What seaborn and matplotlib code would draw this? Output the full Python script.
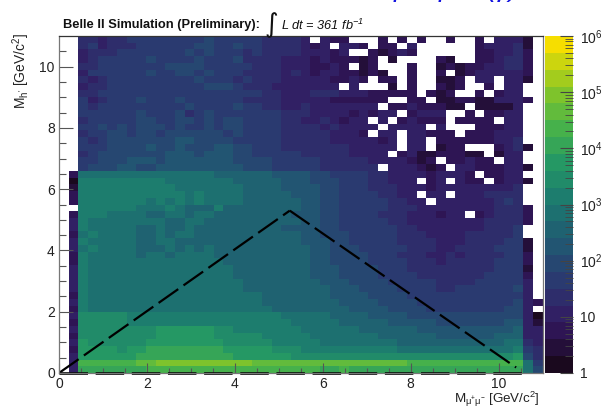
import numpy as np
import pandas as pd
import seaborn as sns
import matplotlib.pyplot as plt
from matplotlib.colors import LinearSegmentedColormap, ListedColormap, LogNorm
from matplotlib.ticker import NullFormatter

# 50 x 50 bins, top row first. One char per bin = colour level of the 20 step palette
# 0-9, a-j = level 0..19, '.' = empty bin
rows_top = [
    "..44344555 5555565555 544443.322 ...2.2.2.. 2..2.3331.",
    "..45344455 5555665565 54444323.3 32.22.3... ...233341.",
    "..34445555 5556565554 5444433323 ..21232... ...223342.",
    "..34555556 5555655564 4443332322 212.1....2 1..223442.",
    "..44555555 5666655555 4443332232 .12...2..1 212233442.",
    "..35555556 5566565554 4443432332 2121..2..2 .12333332.",
    "..43455555 5555655545 4443333322 32.22.2..1 12.33.331.",
    "..34455555 5555566654 443333333. 3...1.2..2 12..2.33..",
    "..44555555 5555555555 5443334443 3322222.21 2..2.233..",
    "..53455565 5565555554 4443333322 2222..22.1 122113332.",
    "..54555555 5556555565 5443343333 333.223222 11.11113..",
    "..55555565 5564565555 5554443333 23233.2333 ..2.2233..",
    "..45555566 5566565665 5554433432 33.3.23222 .2222.33..",
    "..55656566 6565565665 5554444343 333.3333.3 ...22233..",
    "..45566566 5666666565 5554444433 32.33.3322 2.222333..",
    "..54566666 6677666655 5554444433 33323.33.2 22222334..",
    "..55566667 6676667766 5554444444 33333.33.1 22...2341.",
    "..45666666 6777677766 5555544444 3333.23112 2211.133..",
    "..55666777 6777777766 6655555444 443333212. 22322.33..",
    "..56667766 7777777776 6655555444 444.333212 .33222331.",
]
rows_box = [
    ".299999999 9999998888 8877776655 5544333323 332.2233..",
    ".0aaaaaaaa a999999988 8887776665 5544333.23 .322.2331.",
    ".1aaaaaaaa aa99999998 8887777665 5544433323 33333334..",
    ".2aaaaaaaa aaa9a99998 8888777665 5554433.33 .3334444..",
    ".2aaaaaaa9 a9a9a99998 8888877665 55554433.3 33333454..",
    "..aaaaaa99 9a9888a888 8888877665 5555444333 333334442.",
    ".2aaa99998 8998998888 8888777665 5554443332 33.234442.",
    ".3a9999999 9889988888 8888877665 5555443333 333344442.",
    ".3a9999988 9889888888 8887777665 5555544333 33334445..",
    ".29a999988 9899888888 8888877666 5555544433 33444445..",
    ".3a9999988 9988888888 8888877766 5555544443 334444551.",
    ".39a999988 8989898888 8888887766 6555554443 344445551.",
    ".2a9999989 9899998888 8888887766 6655544433 434444552.",
    ".2a9999999 9999999888 8888887766 6655554443 444445552.",
    ".3a9999999 9999999988 8888887776 6665554444 444445551.",
    ".3a9999999 9999999988 8888887776 6665555444 444455552.",
    ".3a9999999 9999999998 8888888777 6666555554 444555553.",
    ".3a9999999 9999999998 8888888877 7666655554 455555563.",
    ".2a9999999 9999999999 9888888877 7766665555 555555553.",
    ".3a9999999 9999999999 9888888887 7776666555 5555555632",
    ".2a9999999 9999999999 9988888888 7777666655 555555663.",
]
rows_bottom = [
    ".3bbbbbaaa aaaaaaaaaa aaa9999988 8877776666 6666666630",
    ".2bbbbbaaa aaaaaaaaaa aaaa999998 8888777776 6666667731",
    ".3bbbbbbbb ccccccbbaa aaaaa99999 9888888777 7777777833",
    ".2bbbbbbbb ccccccbbbb baaaaa9999 9998888887 7777788833",
    ".3cbbbbbbc cccccccbbb bbaaaaa999 9999988888 8888889943",
    ".2ccccbccd dddddddccc ccbbbaaaaa aaaaa99999 9999999a54",
    ".3ccccccdd ddddddddcc ccccbbbbbb bbbbbbbbbb bbbbbbbc64",
    ".3eeeeeeff gggggggggg ffffffffff ffffffeeee eeeeeeee95",
    ".3ddddddde eeeeeeeeee eeeeeeedde dddddddddd dddddddd96",
]
level_chars = "0123456789abcdefghij"

x_ticks = [0, 2, 4, 6, 8, 10]
y_ticks = [0, 2, 4, 6, 8, 10]
minor_ticks = [0.5, 1, 1.5, 2.5, 3, 3.5, 4.5, 5, 5.5, 6.5, 7, 7.5, 8.5, 9, 9.5, 10.5]
cbar_ticks = [1, 10, 100, 1000, 10000, 100000, 1000000]
cbar_labels = ["1", "10", "$10^{2}$", "$10^{3}$", "$10^{4}$", "$10^{5}$", "$10^{6}$"]

# kinematic triangle, GeV
left_x = [0, 5.25]
left_y = [0, 5.3]
right_x = [5.25, 10.4]
right_y = [5.3, 0.18]
base_x = [0, 10.56]
base_y = [0, 0]

mass_max = 11.0
n_bins = 50
bin_w = mass_max / n_bins

# ROOT kViridis stops
red = [26, 51, 43, 33, 28, 35, 74, 144, 246]
green = [9, 24, 55, 87, 118, 150, 180, 200, 222]
blue = [30, 96, 112, 114, 112, 101, 72, 35, 0]

plt.rcParams['font.family'] = ['Liberation Sans', 'DejaVu Sans']
plt.rcParams['mathtext.fontset'] = 'custom'
plt.rcParams['mathtext.rm'] = 'Liberation Sans'
plt.rcParams['mathtext.it'] = 'Liberation Sans:italic'
plt.rcParams['mathtext.default'] = 'regular'

stops = np.column_stack([red, green, blue]) / 255
smooth = LinearSegmentedColormap.from_list('root_viridis', stops)
palette = ListedColormap(smooth(np.linspace(0, 1, 20)))
palette.set_bad('white')


def decode(row):
    row = row.replace(' ', '')
    out = []
    for ch in row:
        if ch == '.':
            out.append(np.nan)
        else:
            out.append(10 ** ((level_chars.index(ch) + 0.5) * 0.3))
    return out


counts = pd.DataFrame([decode(r) for r in rows_top + rows_box + rows_bottom])

W, H = 602, 408
fig = plt.figure(figsize=(W / 100, H / 100), dpi=100)
ax = fig.add_axes([59 / W, 1 - 373 / H, (542.5 - 59) / W, (373 - 36) / H])
cax = fig.add_axes([545 / W, 1 - 373 / H, 28 / W, (373 - 36) / H])

sns.heatmap(counts, ax=ax, cbar_ax=cax, cmap=palette, norm=LogNorm(vmin=1, vmax=1e6),
            xticklabels=False, yticklabels=False, mask=counts.isna(),
            cbar_kws={'ticks': cbar_ticks})

ax.set_xlim(0, n_bins)
ax.set_ylim(n_bins, 0)
for s in ax.spines.values():
    s.set_visible(True)
    s.set_color('#777777')
    s.set_linewidth(0.9)
ax.spines['top'].set_color('#333333')

ax.set_xticks([v / bin_w for v in x_ticks], labels=[str(v) for v in x_ticks])
ax.set_xticks([v / bin_w for v in minor_ticks], minor=True)
ax.set_yticks([(mass_max - v) / bin_w for v in y_ticks], labels=[str(v) for v in y_ticks])
ax.set_yticks([(mass_max - v) / bin_w for v in minor_ticks], minor=True)
ax.tick_params(axis='x', which='major', direction='in', length=7.5, width=0.8, color='#555555',
               labelsize=10, labelcolor='#222222', pad=3, bottom=True)
ax.tick_params(axis='x', which='minor', direction='in', length=3.8, width=0.8, color='#555555', bottom=True)
ax.tick_params(axis='y', which='major', direction='in', length=10, width=0.8, color='#555555',
               labelsize=10, labelcolor='#222222', pad=3, left=True, labelrotation=0)
ax.tick_params(axis='y', which='minor', direction='in', length=5, width=0.8, color='#555555', left=True)

# triangle on top of the cells
dash = (0, (10.8, 2.9))
for xs, ys in [(left_x, left_y), (right_x, right_y)]:
    ax.plot([v / bin_w for v in xs], [(mass_max - v) / bin_w for v in ys],
            color='black', lw=1.6, ls=dash)
ax.plot([v / bin_w for v in base_x], [(mass_max - v) / bin_w for v in base_y],
        color='black', lw=1.9, ls=dash, clip_on=False)

# palette axis
cbar = ax.collections[0].colorbar
cbar.outline.set_visible(False)
cbar.ax.yaxis.set_ticks(cbar_ticks, labels=cbar_labels)
cbar_minor = [m * t for t in cbar_ticks[:-1] for m in range(2, 10)]
cbar.ax.set_yticks(cbar_minor, minor=True)
cbar.ax.yaxis.set_minor_formatter(NullFormatter())
cbar.ax.tick_params(axis='y', which='major', direction='in', length=9.5, width=0.8, color='#444444',
                    labelsize=10, labelcolor='#222222', right=True, pad=5)
cbar.ax.tick_params(axis='y', which='minor', direction='in', length=5.5, width=0.6, color='#444444', right=True)

fig.text(540 / W, 1 - 403 / H, r"M$_{\mu^{+}\mu^{-}}$ [GeV/c$^{2}$]", ha='right', va='baseline',
         fontsize=9.6, color='#222222')
fig.text(21 / W, 1 - 33 / H, r"M$_{h'}$ [GeV/c$^{2}$]", rotation=90, ha='center', va='top',
         fontsize=10, color='#222222')

fig.text(63 / W, 1 - 25 / H, "Belle II Simulation (Preliminary):", ha='left', va='center',
         fontsize=9.3, fontweight='bold', color='#111111')
fig.text(265 / W, 1 - 25 / H, "\u222b", ha='left', va='center', fontsize=19,
         family=['DejaVu Sans'], style='italic', color='#111111')
fig.text(281 / W, 1 - 25 / H, r"L dt = 361 fb$^{-1}$", ha='left', va='center', fontsize=9.2,
         style='italic', color='#111111')

# bottom of the slide heading that was cut off by the crop
for label, px in [("\u03bc", 394), ("\u03bc", 439), ("(\u03b3)", 487)]:
    fig.text(px / W, 1 + 4 / H, label, ha='left', va='baseline', fontsize=20,
             style='italic', color='#1212e0')

fig.savefig('out.png', dpi=100)
